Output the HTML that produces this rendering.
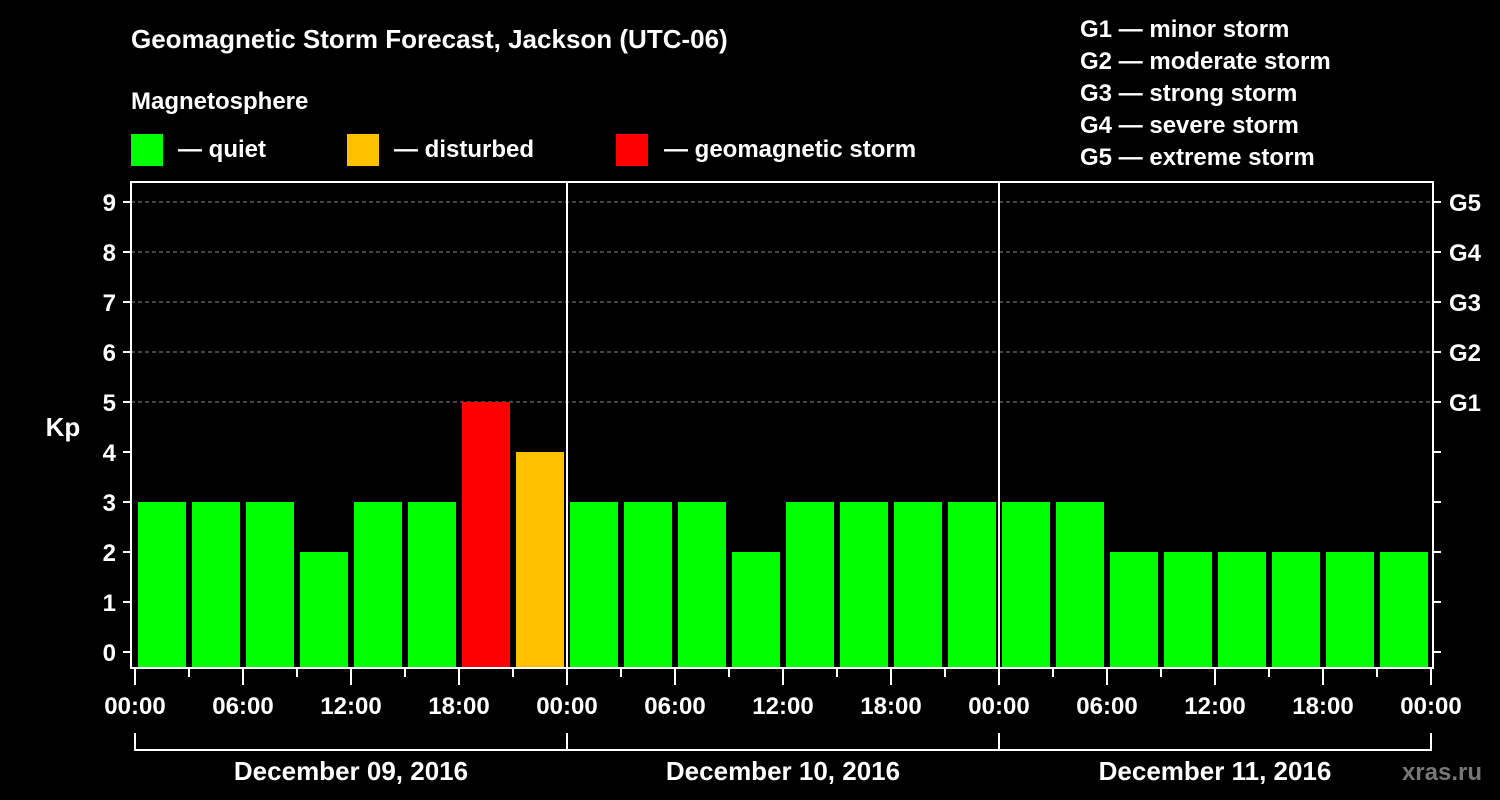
<!DOCTYPE html>
<html><head><meta charset="utf-8"><style>
html,body{margin:0;padding:0;background:#000;width:1500px;height:800px;overflow:hidden}
svg{display:block;font-family:"Liberation Sans",sans-serif;font-weight:bold}
</style></head><body>
<svg id="chart" width="1500" height="800" xmlns="http://www.w3.org/2000/svg">
<rect width="1500" height="800" fill="#000"/>
<text x="131" y="48" fill="#fff" font-size="26">Geomagnetic Storm Forecast, Jackson (UTC-06)</text>
<text x="131" y="109" fill="#fff" font-size="24">Magnetosphere</text>
<g><rect x="131" y="134" width="32" height="32" fill="#00ff00"/><text x="178" y="157" fill="#fff" font-size="24">— quiet</text></g>
<g><rect x="347" y="134" width="32" height="32" fill="#ffc000"/><text x="394" y="157" fill="#fff" font-size="24">— disturbed</text></g>
<g><rect x="616" y="134" width="32" height="32" fill="#ff0000"/><text x="664" y="157" fill="#fff" font-size="24">— geomagnetic storm</text></g>
<g fill="#fff" font-size="24">
<text x="1080" y="37">G1 — minor storm</text><text x="1080" y="69">G2 — moderate storm</text><text x="1080" y="101">G3 — strong storm</text><text x="1080" y="133">G4 — severe storm</text><text x="1080" y="165">G5 — extreme storm</text></g>
<text x="63" y="436" fill="#fff" font-size="26" text-anchor="middle">Kp</text>
<text x="1482" y="780" fill="#777" font-size="24" text-anchor="end">xras.ru</text>
<g id="grid"></g><g id="bars"></g><g id="axes"></g>
</svg>
<script>
const kpValues=[3,3,3,2,3,3,5,4, 3,3,3,2,3,3,3,3, 3,3,2,2,2,2,2,2];
const yTicks=[0,1,2,3,4,5,6,7,8,9];
const gLabels=["G1","G2","G3","G4","G5"];
const hourLabels=["00:00","06:00","12:00","18:00","00:00","06:00","12:00","18:00","00:00","06:00","12:00","18:00","00:00"];
const dayLabels=["December 09, 2016","December 10, 2016","December 11, 2016"];
const NS="http://www.w3.org/2000/svg";
const X0=135,SLOT=54,L=131,R=1433,T=182,B=668;
const yS=v=>652-v*50;
const xS=i=>X0+i*SLOT;
function mk(tag,attrs,parent,text){const e=document.createElementNS(NS,tag);for(const k in attrs)e.setAttribute(k,attrs[k]);if(text!==undefined)e.textContent=text;parent.appendChild(e);return e;}
const grid=document.getElementById('grid'),bars=document.getElementById('bars'),axes=document.getElementById('axes');
yTicks.forEach(v=>{
 if(v>=5){const g=mk('line',{x1:L,x2:R,y1:yS(v),y2:yS(v),stroke:'#888','stroke-dasharray':'4,3','stroke-width':1},grid);
 
 }
 const t=mk('text',{x:116,y:yS(v)+9,fill:'#fff','font-size':24,'text-anchor':'end'},axes,String(v));
 
 
 mk('line',{x1:L-8,x2:L,y1:yS(v),y2:yS(v),stroke:'#fff','stroke-width':2},axes);
 mk('line',{x1:R,x2:R+8,y1:yS(v),y2:yS(v),stroke:'#fff','stroke-width':2},axes);
});
gLabels.forEach((g,i)=>{const t=mk('text',{x:1449,y:yS(5+i)+9,fill:'#fff','font-size':24},axes,g);
 
 });
kpValues.forEach((v,i)=>{
 const c=v>=5?'#ff0000':(v>=4?'#ffc000':'#00ff00');
 const r=mk('rect',{x:xS(i)+3,y:yS(v),width:48,height:B-yS(v),fill:c},bars);
 
 
});
mk('rect',{x:L,y:T,width:R-L,height:B-T,fill:'none',stroke:'#fff','stroke-width':2},axes);
[1,2].forEach(d=>mk('line',{x1:xS(d*8),x2:xS(d*8),y1:T,y2:B,stroke:'#fff','stroke-width':2},axes));
for(let i=0;i<=24;i++){const major=i%2===0;mk('line',{x1:xS(i),x2:xS(i),y1:B,y2:major?685:677,stroke:'#fff','stroke-width':2},axes);}
hourLabels.forEach((h,i)=>{const t=mk('text',{x:xS(i*2),y:714,fill:'#fff','font-size':24,'text-anchor':'middle'},axes,h);
 
 });
mk('path',{d:`M${xS(0)},733V750H${xS(24)}V733`,stroke:'#fff','stroke-width':2,fill:'none'},axes);
[1,2].forEach(d=>mk('line',{x1:xS(d*8),x2:xS(d*8),y1:733,y2:750,stroke:'#fff','stroke-width':2},axes));
dayLabels.forEach((d,i)=>{const t=mk('text',{x:xS(i*8+4),y:780,fill:'#fff','font-size':26,'text-anchor':'middle'},axes,d);
 
 });
</script>
</body></html>
